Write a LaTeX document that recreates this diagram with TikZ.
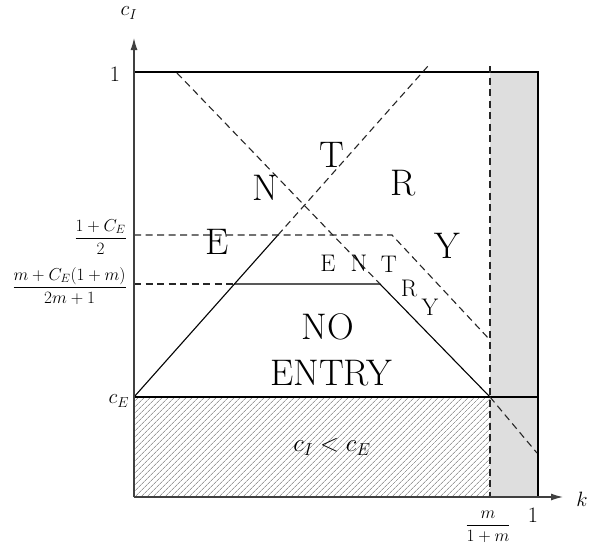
\documentclass[tikz,border=0pt]{standalone}
\usepackage{amsmath}
\usetikzlibrary{patterns.meta,arrows.meta}
\begin{document}
\begin{tikzpicture}[x=1pt,y=-1pt,
  axis/.style={line width=1.2pt, draw=black!75},
  edge/.style={line width=1.1pt},
  dsh/.style={line width=1.1pt, dash pattern=on 7pt off 4.5pt, draw=black!85},
  big/.style={font=\fontsize{37}{37}\selectfont, inner sep=0pt},
  mid/.style={font=\fontsize{24}{24}\selectfont, inner sep=0pt},
  lab/.style={font=\fontsize{22}{24}\selectfont, inner sep=0pt},
  frac/.style={font=\fontsize{17.5}{20}\selectfont, inner sep=0pt},
]
\useasboundingbox (0,0) rectangle (591,555);
% regions
\fill[black!13] (490,72) rectangle (538,497);
\fill[pattern={Lines[angle=45,distance=4pt,line width=0.5pt]}, pattern color=black!60] (134,397) rectangle (490,497);
% coordinates
\coordinate (O) at (134,497);
\coordinate (Ytip) at (134,38);
\coordinate (Xtip) at (563,497);
\coordinate (TL) at (134,72);
\coordinate (TR) at (538,72);
\coordinate (BR) at (538,497);
\coordinate (CE) at (134,397);
\coordinate (CEr) at (538,397);
\coordinate (Vt) at (490,66);
\coordinate (Vb) at (490,497);
\coordinate (H1) at (134,235);
\coordinate (H2) at (134,284);
\coordinate (P1) at (278,235);
\coordinate (P2) at (234,284);
\coordinate (P3) at (380,284);
\coordinate (P4) at (490,397);
\coordinate (Aup) at (428,66);
\coordinate (Dst) at (177,73);
\coordinate (Dend) at (537,453);
\coordinate (Q1) at (392,235);
\coordinate (Q2) at (490,340);
% lines
\draw[edge] (TL)--(TR)--(BR);
\draw[edge] (CE)--(CEr);
\draw[dsh] (Vt)--(Vb);
\draw[edge] (CE)--(P1);
\draw[dsh] (P1)--(Aup);
\draw[edge] (P2)--(P3)--(P4);
\draw[dsh] (Dst)--(P3);
\draw[dsh] (P4)--(Dend);
\draw[dsh] (H1)--(Q1)--(Q2);
\draw[dsh] (H2)--(P2);
\draw[axis,-{Latex[length=12pt,width=7pt]}] (O)--(Ytip);
\draw[axis,-{Latex[length=12pt,width=7pt]}] (O)--(Xtip);
% region labels
\node[big] (bN) at (265,188) {N};
\node[big] (bT) at (332,155) {T};
\node[big] (bR) at (403,183) {R};
\node[big] (bE) at (217,242) {E};
\node[big] (bY) at (447,246) {Y};
\node[big] (no) at (328,327) {NO};
\node[big] (entry) at (331,373) {ENTRY};
\node[mid] (sE) at (328,263) {E};
\node[mid] (sN) at (359,263) {N};
\node[mid] (sT) at (389,264) {T};
\node[mid] (sR) at (409,288) {R};
\node[mid] (sY) at (430,307) {Y};
\node[mid] (cic) at (332,447) {$c_I < c_E$};
% axis labels
\node[lab] (lcI) at (129,13) {$c_I$};
\node[lab] (l1) at (115,74) {1};
\node[frac,anchor=east] (lf1) at (127,237) {$\dfrac{1+C_E}{2}$};
\node[frac,anchor=east] (lf2) at (127,286) {$\dfrac{m+C_E(1+m)}{2m+1}$};
\node[lab] (lcE) at (119,401) {$c_E$};
\node[lab] (lk) at (582,499) {$k$};
\node[lab] (lx1) at (533,515) {1};
\node[frac] (lfm) at (488,527) {$\dfrac{m}{1+m}$};
\end{tikzpicture}
\end{document}
